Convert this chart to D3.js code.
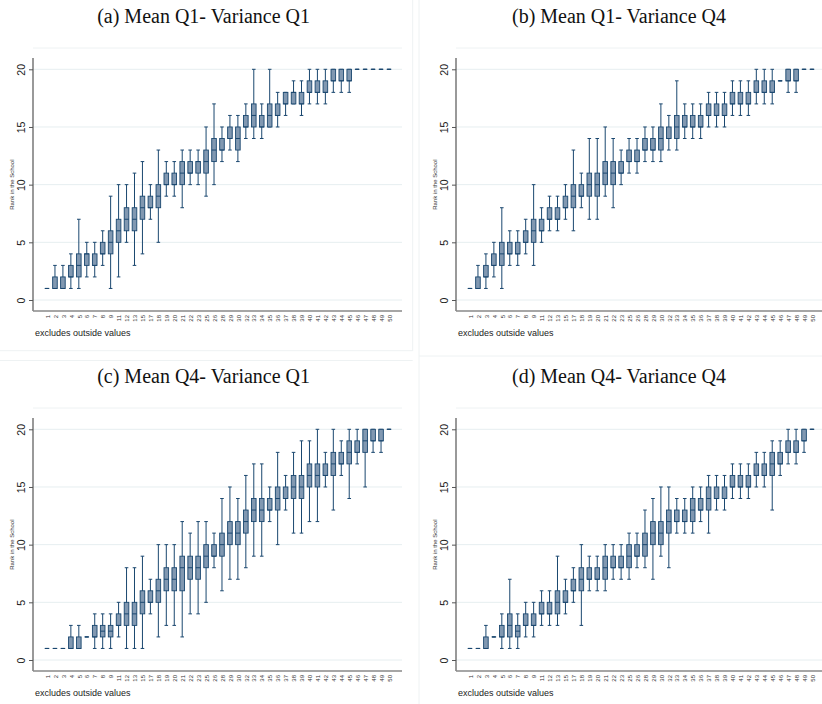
<!DOCTYPE html>
<html>
<head>
<meta charset="utf-8">
<script src="https://cdn.jsdelivr.net/npm/d3@7"></script>
<style>
  body { margin: 0; background: #fff; }
</style>
</head>
<body>
<div id="chart"></div>
<script>
const width = 822;
const height = 704;

// class sizes shown on the x axis (same in all four panels)
const categories = [1, 2, 3, 4, 5, 6, 7, 8, 9, 11, 12, 13, 15, 17, 18, 19, 20, 21, 22, 23, 25,
  26, 28, 29, 30, 32, 33, 34, 35, 36, 37, 38, 39, 40, 41, 42, 43, 44, 45, 46, 47, 48, 49, 50];

const titles = ["(a) Mean Q1- Variance Q1", "(b) Mean Q1- Variance Q4",
  "(c) Mean Q4- Variance Q1", "(d) Mean Q4- Variance Q4"];

const yTicks = [0, 5, 10, 15, 20];

// [lower whisker, q1, median, q3, upper whisker] per category
const panelA = [
  [1,1,1,1,1], [1,1,1,2,3], [1,1,1,2,3], [1,2,2,3,4], [1,2,3,4,7], [2,3,4,4,5], [2,3,3,4,5],
  [3,4,4,5,6], [1,4,5,6,9], [2,5,6,7,10], [5,6,7,8,10], [3,6,7,8,11], [4,7,8,9,12], [7,8,8,9,10],
  [5,8,9,10,13], [9,10,10,11,12], [9,10,10,11,12], [8,10,11,12,13], [10,11,11,12,13], [10,11,12,12,13],
  [9,11,12,13,15], [10,12,13,14,17], [12,13,13,14,15], [13,14,14,15,16], [12,13,14,15,16],
  [14,15,15,16,17], [14,15,16,17,20], [14,15,15,16,17], [15,15,16,17,20], [15,16,16,17,18],
  [16,17,17,18,18], [17,17,18,18,19], [16,17,17,18,19], [17,18,18,19,20], [17,18,18,19,20],
  [17,18,18,19,20], [18,19,19,20,20], [18,19,19,20,20], [18,19,19,20,20], [20,20,20,20,20],
  [20,20,20,20,20], [20,20,20,20,20], [20,20,20,20,20], [20,20,20,20,20]
];

const panelB = [
  [1,1,1,1,1], [1,1,1,2,3], [1,2,2,3,4], [2,3,3,4,5], [1,3,4,5,8], [3,4,4,5,6], [3,4,4,5,6],
  [4,5,5,6,7], [3,5,6,7,10], [5,6,6,7,8], [6,7,7,8,9], [6,7,7,8,9], [7,8,8,9,10], [6,8,9,10,13],
  [8,9,9,10,11], [7,9,10,11,14], [7,9,10,11,14], [9,10,11,12,15], [8,10,11,12,14], [10,11,11,12,13],
  [11,12,12,13,14], [11,12,12,13,14], [12,13,13,14,15], [12,13,13,14,15], [12,13,14,15,17],
  [13,14,14,15,16], [13,14,15,16,19], [14,15,15,16,17], [14,15,15,16,17], [14,15,15,16,17],
  [15,16,16,17,18], [15,16,16,17,18], [15,16,16,17,18], [16,17,17,18,19], [16,17,17,18,19],
  [16,17,17,18,19], [17,18,18,19,20], [17,18,18,19,20], [17,18,18,19,20], [19,19,19,19,19],
  [18,19,19,20,20], [18,19,19,20,20], [20,20,20,20,20], [20,20,20,20,20]
];

const panelC = [
  [1,1,1,1,1], [1,1,1,1,1], [1,1,1,1,1], [1,1,1,2,3], [1,1,1,2,3], [2,2,2,2,2], [1,2,2,3,4],
  [1,2,2.5,3,4], [1,2,2.5,3,4], [2,3,3,4,5], [1,3,4,5,8], [1,3,4,5,8], [1,4,5,6,9], [4,5,5,6,7],
  [2,5,6,7,10], [3,6,7,8,10], [3,6,7,8,10], [2,6,8,9,12], [4,7,8,9,11], [4,7,8,9,12],
  [5,8,9,10,12], [8,9,9,10,11], [6,9,10,11,14], [7,10,11,12,15], [7,10,11,12,14],
  [8,11,12,13,16], [9,12,13,14,17], [9,12,13,14,17], [12,13,13,14,15], [10,13,14,15,18],
  [13,14,14,15,16], [11,14,15,16,18], [11,14,15,16,19], [12,15,16,17,19], [12,15,16,17,20],
  [15,16,16,17,18], [13,16,17,18,20], [16,17,17,18,19], [14,17,18,19,20], [17,18,18,19,20],
  [15,18,19,20,20], [18,19,19,20,20], [18,19,19,20,20], [20,20,20,20,20]
];

const panelD = [
  [1,1,1,1,1], [1,1,1,1,1], [1,1,1,2,3], [2,2,2,2,2], [1,2,2,3,4], [1,2,3,4,7], [1,2,2.5,3,4],
  [2,3,3,4,5], [2,3,3,4,5], [3,4,4,5,6], [3,4,4,5,6], [3,4,5,6,9], [4,5,5,6,7], [5,6,6,7,8],
  [3,6,7,8,10], [6,7,7,8,9], [6,7,7,8,9], [6,7,8,9,10], [7,8,8,9,10], [7,8,8,9,10],
  [7,8,9,10,11], [8,9,9,10,11], [8,9,10,11,13], [7,10,11,12,14], [9,10,11,12,15],
  [8,11,12,13,15], [11,12,12,13,14], [11,12,12,13,14], [11,12,13,14,15], [12,13,13,14,15],
  [11,13,14,15,16], [13,14,14,15,16], [13,14,14,15,16], [14,15,15,16,17], [14,15,15,16,17],
  [14,15,15,16,17], [15,16,16,17,18], [15,16,16,17,18], [13,16,17,18,19], [16,17,17,18,19],
  [17,18,18,19,20], [17,18,18,19,20], [18,19,19,20,20], [20,20,20,20,20]
];

const navy = "#1a476f";
const boxFill = "#8198b1";

const x = d3.scalePoint().domain(categories).range([47, 389]);
const y = d3.scaleLinear().domain([0, 20]).range([300, 69.3]);

const svg = d3.select("#chart")
  .append("svg")
  .attr("width", width)
  .attr("height", height)
  .style("font-family", "'Liberation Sans', Arial, sans-serif");

// faint graph region edges
const faint = "#eef2f3";
[[412.7, 0, 412.7, 351], [419, 0, 419, 704], [0, 350.7, 412.7, 350.7], [0, 360.5, 412.7, 360.5],
 [419, 356, 822, 356]].forEach(([x1, y1, x2, y2]) => {
  svg.append("line").attr("x1", x1).attr("y1", y1).attr("x2", x2).attr("y2", y2)
    .attr("stroke", faint).attr("stroke-width", 1);
});

const panels = [
  {data: panelA, title: titles[0], dx: 0, dy: 0, tx: 203.6},
  {data: panelB, title: titles[1], dx: 423, dy: 0, tx: 619},
  {data: panelC, title: titles[2], dx: 0, dy: 360, tx: 203.6},
  {data: panelD, title: titles[3], dx: 423, dy: 360, tx: 619}
];

panels.forEach(p => {
  const g = svg.append("g").attr("transform", `translate(${p.dx},${p.dy})`);

  svg.append("text")
    .attr("x", p.tx)
    .attr("y", 23.3 + p.dy)
    .attr("text-anchor", "middle")
    .style("font-family", "'Liberation Serif', 'Times New Roman', serif")
    .style("font-size", "20px")
    .attr("fill", "#111")
    .text(p.title);

  // plot region top edge
  g.append("line")
    .attr("x1", 33).attr("x2", 402).attr("y1", 48).attr("y2", 48)
    .attr("stroke", faint);

  // gridlines
  g.append("g")
    .selectAll("line")
    .data(yTicks)
    .join("line")
    .attr("x1", 33).attr("x2", 402)
    .attr("y1", d => y(d)).attr("y2", d => y(d))
    .attr("stroke", "#e6eef0")
    .attr("stroke-width", 1);

  // y axis
  const yAxis = g.append("g")
    .attr("transform", "translate(33,0)")
    .call(d3.axisLeft(y).tickValues(yTicks).tickSize(4).tickPadding(0));
  yAxis.select(".domain").remove();
  yAxis.selectAll(".tick line").attr("stroke", "#555");
  yAxis.selectAll(".tick text")
    .attr("x", 0).attr("dy", 0)
    .attr("transform", "translate(-8.5,0) rotate(-90)")
    .attr("text-anchor", "middle")
    .attr("fill", "#222")
    .style("font-size", "10.5px");
  g.append("line")
    .attr("x1", 33).attr("x2", 33).attr("y1", 58).attr("y2", 311)
    .attr("stroke", "#555").attr("stroke-width", 1.2);

  g.append("text")
    .attr("transform", `translate(14,${(y(0) + y(20)) / 2}) rotate(-90)`)
    .attr("text-anchor", "middle")
    .attr("fill", "#333")
    .style("font-size", "6px")
    .text("Rank in the School");

  // x axis
  const xAxis = g.append("g")
    .attr("transform", "translate(0,311)")
    .call(d3.axisBottom(x).tickSize(0).tickPadding(0));
  xAxis.select(".domain").remove();
  xAxis.selectAll(".tick text")
    .attr("y", 0).attr("dy", 0)
    .attr("transform", "translate(2.2,4) rotate(-90)")
    .attr("text-anchor", "end")
    .attr("fill", "#333")
    .style("font-size", "6px");
  g.append("line")
    .attr("x1", 33).attr("x2", 402).attr("y1", 311).attr("y2", 311)
    .attr("stroke", "#888").attr("stroke-width", 1.5);

  g.append("text")
    .attr("x", 35)
    .attr("y", 335.5)
    .attr("fill", "#222")
    .style("font-size", "9px")
    .text("excludes outside values");

  // boxes
  const box = g.append("g")
    .selectAll("g")
    .data(p.data.map((v, i) => ({cat: categories[i], v})))
    .join("g")
    .attr("transform", d => `translate(${x(d.cat)},0)`);

  box.append("line")
    .attr("y1", d => y(d.v[0])).attr("y2", d => y(d.v[4]))
    .attr("stroke", navy).attr("stroke-width", 1);

  box.append("line")
    .attr("x1", -1.8).attr("x2", 1.8)
    .attr("y1", d => y(d.v[0])).attr("y2", d => y(d.v[0]))
    .attr("stroke", navy).attr("stroke-width", 1);

  box.append("line")
    .attr("x1", -1.8).attr("x2", 1.8)
    .attr("y1", d => y(d.v[4])).attr("y2", d => y(d.v[4]))
    .attr("stroke", navy).attr("stroke-width", 1);

  box.append("rect")
    .attr("x", -2.3)
    .attr("width", 4.6)
    .attr("y", d => y(d.v[3]))
    .attr("height", d => y(d.v[1]) - y(d.v[3]))
    .attr("fill", boxFill)
    .attr("stroke", navy)
    .attr("stroke-width", 0.9);

  box.append("line")
    .attr("x1", -2.3).attr("x2", 2.3)
    .attr("y1", d => y(d.v[2])).attr("y2", d => y(d.v[2]))
    .attr("stroke", navy).attr("stroke-width", 1);
});
</script>
</body>
</html>
